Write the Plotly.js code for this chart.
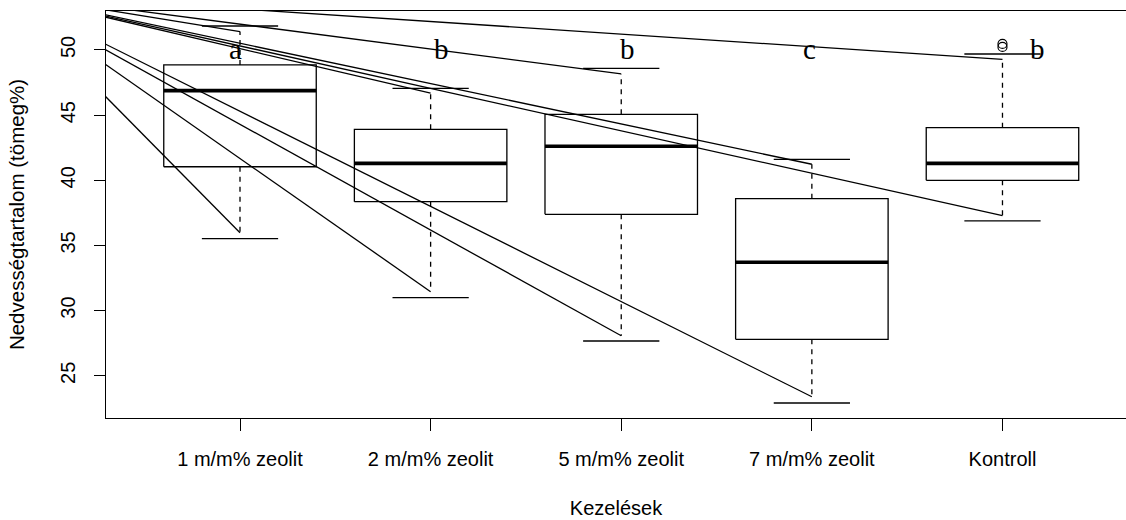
<!DOCTYPE html>
<html>
<head>
<meta charset="utf-8">
<script src="https://cdn.plot.ly/plotly-3.0.1.min.js"></script>
<style>html,body{margin:0;padding:0;background:#fff;}#chart{width:1126px;height:520px;}</style>
</head>
<body>
<div id="chart"></div>
<script>
// ---- data ----
const categories = ['1 m/m% zeolit', '2 m/m% zeolit', '5 m/m% zeolit', '7 m/m% zeolit', 'Kontroll'];
const q1 =        [41.04, 38.36, 37.39, 27.80, 40.00];
const medians =   [46.88, 41.30, 42.61, 33.71, 41.30];
const q3 =        [48.85, 43.91, 45.06, 38.59, 44.04];
const whiskerLow  = [35.98, 31.45, 28.07, 23.39, 37.28];
const whiskerHigh = [51.41, 46.68, 48.16, 41.23, 49.28];
const capLow  = [35.52, 30.99, 27.67, 22.91, 36.88];
const capHigh = [51.84, 47.06, 48.59, 41.61, 49.69];
const outlierGroup = [5, 5];
const outlierValues = [50.46, 50.23];
const letters = ['a', 'b', 'b', 'c', 'b'];
const letterLevel = 50.1;
// common (off-chart) origin of the stray segments drawn to every whisker end
const strayOriginX = -0.24;
const strayOriginY = 54.35;
const yTicks = [25, 30, 35, 40, 45, 50];

// ---- geometry helpers ----
const pos = categories.map((c, i) => i + 1);
const boxHalf = 0.4, capHalf = 0.2;
const letterShift = [-5, 11, 6, -2, 35];

function rectPath() {
  const xs = [], ys = [];
  pos.forEach((p, i) => {
    xs.push(p - boxHalf, p + boxHalf, p + boxHalf, p - boxHalf, p - boxHalf, null);
    ys.push(q1[i], q1[i], q3[i], q3[i], q1[i], null);
  });
  return {xs, ys};
}
function hsegs(vals, half) {
  const xs = [], ys = [];
  pos.forEach((p, i) => { xs.push(p - half, p + half, null); ys.push(vals[i], vals[i], null); });
  return {xs, ys};
}
function vsegs(a, b) {
  const xs = [], ys = [];
  pos.forEach((p, i) => { xs.push(p, p, null); ys.push(a[i], b[i], null); });
  return {xs, ys};
}

const box = rectPath();
const med = hsegs(medians, boxHalf);
const capL = hsegs(capLow, capHalf);
const capH = hsegs(capHigh, capHalf);
const wL = vsegs(q1, whiskerLow);
const wH = vsegs(q3, whiskerHigh);
const stray = {xs: [], ys: []};
pos.forEach((p, i) => {
  stray.xs.push(strayOriginX, p, null); stray.ys.push(strayOriginY, whiskerLow[i], null);
  stray.xs.push(strayOriginX, p, null); stray.ys.push(strayOriginY, whiskerHigh[i], null);
});

const blk = '#000000';
const traces = [
  {x: stray.xs, y: stray.ys, mode: 'lines', line: {color: blk, width: 1.3}, hoverinfo: 'skip'},
  {x: wL.xs, y: wL.ys, mode: 'lines', line: {color: blk, width: 1.3, dash: '5px,5px'}, hoverinfo: 'skip'},
  {x: wH.xs, y: wH.ys, mode: 'lines', line: {color: blk, width: 1.3, dash: '5px,5px'}, hoverinfo: 'skip'},
  {x: capL.xs, y: capL.ys, mode: 'lines', line: {color: blk, width: 1.3}, hoverinfo: 'skip'},
  {x: capH.xs, y: capH.ys, mode: 'lines', line: {color: blk, width: 1.3}, hoverinfo: 'skip'},
  {x: box.xs, y: box.ys, mode: 'lines', line: {color: blk, width: 1.3}, hoverinfo: 'skip'},
  {x: med.xs, y: med.ys, mode: 'lines', line: {color: blk, width: 3.6}, hoverinfo: 'skip'},
  {x: outlierGroup, y: outlierValues, mode: 'markers', marker: {symbol: 'circle-open', size: 9, color: blk, line: {width: 1.2, color: blk}}, hoverinfo: 'skip'}
];

const annotations = letters.map((t, i) => ({
  x: pos[i], y: letterLevel, xref: 'x', yref: 'y', text: t, showarrow: false,
  xanchor: 'center', yanchor: 'middle', xshift: letterShift[i],
  font: {family: 'Liberation Serif, Times New Roman, serif', size: 29, color: blk}
}));

const layout = {
  width: 1126, height: 520,
  margin: {l: 106, r: 0, t: 11, b: 102},
  paper_bgcolor: '#ffffff', plot_bgcolor: '#ffffff',
  showlegend: false,
  annotations: annotations,
  font: {family: 'Liberation Sans, Arial, sans-serif', size: 20, color: blk},
  xaxis: {
    range: [0.297, 5.648], tickvals: pos, ticktext: categories,
    ticks: 'outside', ticklen: 12, tickwidth: 1, tickcolor: blk, ticklabelstandoff: 11,
    showline: true, linecolor: blk, linewidth: 1.3, mirror: true,
    showgrid: false, zeroline: false, fixedrange: true,
    tickfont: {size: 20, color: blk},
    title: {text: 'Kezelések', font: {size: 20, color: blk}, standoff: 31}
  },
  yaxis: {
    range: [21.76, 52.99], tickvals: yTicks, ticktext: yTicks.map(String),
    ticks: 'outside', ticklen: 11, tickwidth: 1, tickcolor: blk, tickangle: -90, ticklabelstandoff: 11,
    showline: true, linecolor: blk, linewidth: 1.3, mirror: false,
    showgrid: false, zeroline: false, fixedrange: true,
    tickfont: {size: 20, color: blk},
    title: {text: 'Nedvességtartalom (tömeg%)', font: {size: 20.5, color: blk}, standoff: 26}
  }
};

Plotly.newPlot('chart', traces, layout, {displayModeBar: false, staticPlot: true});
</script>
</body>
</html>
